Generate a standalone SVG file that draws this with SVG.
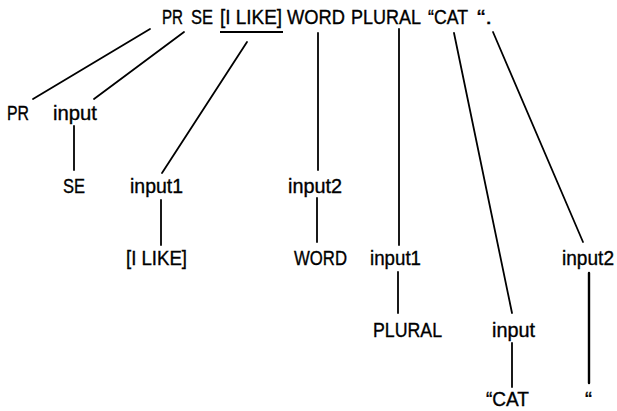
<svg xmlns="http://www.w3.org/2000/svg" width="617" height="411" viewBox="0 0 617 411">
<style>
text{font-family:"Liberation Sans",Arial,sans-serif;font-size:20px;fill:#000;stroke:#000;stroke-width:0.35}
.e line{stroke:#000;stroke-width:1.8;stroke-linecap:round}
</style>
<rect width="617" height="411" fill="#fff"/>
<g id="root">
<text x="162" y="24" textLength="21" lengthAdjust="spacingAndGlyphs">PR</text>
<text x="191" y="24" textLength="22" lengthAdjust="spacingAndGlyphs">SE</text>
<text x="220" y="24" textLength="62" lengthAdjust="spacingAndGlyphs">[I LIKE]</text>
<text x="287" y="24" textLength="58" lengthAdjust="spacingAndGlyphs">WORD</text>
<text x="351" y="24" textLength="70" lengthAdjust="spacingAndGlyphs">PLURAL</text>
<text x="428" y="24" textLength="40" lengthAdjust="spacingAndGlyphs">“CAT</text>
<text x="477" y="24" textLength="15" lengthAdjust="spacingAndGlyphs">“.</text>
<line x1="220" y1="32" x2="283" y2="32" stroke="#000" stroke-width="2"/>
</g>
<g id="n-pr"><text x="7" y="120" textLength="22" lengthAdjust="spacingAndGlyphs">PR</text></g>
<g id="n-input-a"><text x="53" y="120" textLength="44" lengthAdjust="spacingAndGlyphs">input</text></g>
<g id="n-se"><text x="63" y="193" textLength="22" lengthAdjust="spacingAndGlyphs">SE</text></g>
<g id="n-input1-a"><text x="130" y="193" textLength="53" lengthAdjust="spacingAndGlyphs">input1</text></g>
<g id="n-input2-a"><text x="288" y="193" textLength="54" lengthAdjust="spacingAndGlyphs">input2</text></g>
<g id="n-ilike"><text x="126" y="265" textLength="61" lengthAdjust="spacingAndGlyphs">[I LIKE]</text></g>
<g id="n-word"><text x="294" y="265" textLength="53" lengthAdjust="spacingAndGlyphs">WORD</text></g>
<g id="n-input1-b"><text x="370" y="265" textLength="51" lengthAdjust="spacingAndGlyphs">input1</text></g>
<g id="n-input2-b"><text x="562" y="265" textLength="52" lengthAdjust="spacingAndGlyphs">input2</text></g>
<g id="n-plural"><text x="373" y="337" textLength="69" lengthAdjust="spacingAndGlyphs">PLURAL</text></g>
<g id="n-input-b"><text x="492" y="337" textLength="43" lengthAdjust="spacingAndGlyphs">input</text></g>
<g id="n-cat"><text x="486" y="406" textLength="43" lengthAdjust="spacingAndGlyphs">“CAT</text></g>
<g id="n-quote"><text x="585" y="406" textLength="7" lengthAdjust="spacingAndGlyphs">“</text></g>
<g id="edges" class="e">
<line x1="150" y1="29" x2="33" y2="99"/>
<line x1="184" y1="32" x2="94" y2="99"/>
<line x1="247" y1="42" x2="162" y2="173"/>
<line x1="318" y1="33" x2="318" y2="170"/>
<line x1="399" y1="29" x2="399" y2="245"/>
<line x1="454" y1="33" x2="512" y2="313"/>
<line x1="493" y1="32" x2="583" y2="242"/>
<line x1="74" y1="126" x2="74" y2="170"/>
<line x1="161" y1="200" x2="161" y2="245"/>
<line x1="317" y1="198" x2="317" y2="242"/>
<line x1="398" y1="272" x2="398" y2="313"/>
<line x1="512" y1="343" x2="512" y2="387"/>
<line x1="589" y1="273" x2="589" y2="383" style="stroke-width:2.4"/>
</g>
</svg>
